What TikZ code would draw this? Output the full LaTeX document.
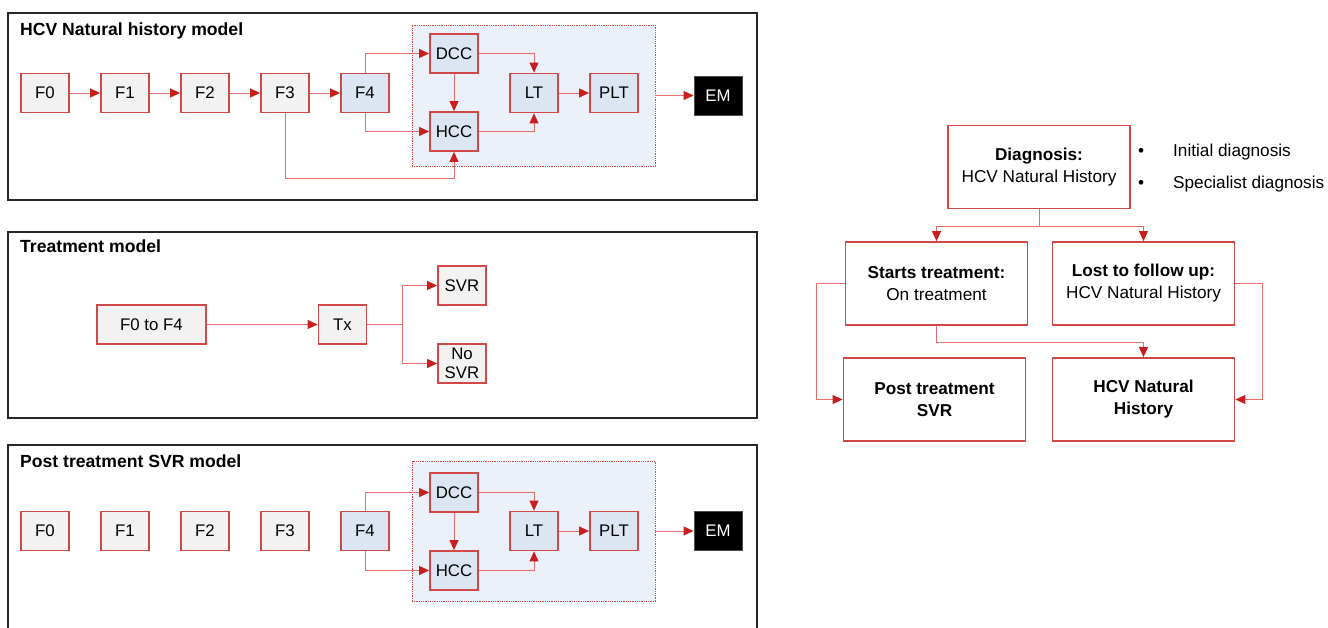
\documentclass[tikz,border=0pt]{standalone}
\usepackage{fontspec}
\setmainfont{Liberation Sans}
\usetikzlibrary{arrows.meta}
\definecolor{bred}{RGB}{208,72,72}
\definecolor{lred}{RGB}{228,110,110}
\definecolor{dred}{RGB}{200,30,30}
\definecolor{gfill}{RGB}{242,242,242}
\definecolor{bfill}{RGB}{220,230,242}
\definecolor{rfill}{RGB}{236,241,249}
\tikzset{
  sbox/.style={draw=bred, line width=1.8pt, fill=gfill, minimum width=48pt, minimum height=39pt, inner sep=0pt, font=\fontsize{16.8}{19}\selectfont},
  bbox/.style={sbox, fill=bfill},
  embox/.style={draw=gray!60!black, line width=1pt, fill=black, text=white, minimum width=48pt, minimum height=39pt, inner sep=0pt, font=\fontsize{16.8}{19}\selectfont},
  region/.style={draw=bred, densely dotted, line width=0.8pt, fill=rfill, inner sep=0pt},
  panel/.style={draw=black!85, line width=1.3pt},
  ptitle/.style={anchor=north west, inner sep=0pt, font=\bfseries\fontsize{17.6}{20}\selectfont},
  arr/.style={draw=lred, line width=1pt, -{Triangle[length=10pt,width=9pt,color=dred]}},
  bigbox/.style={draw=bred, line width=1.8pt, fill=white, minimum width=182pt, minimum height=83pt, inner sep=0pt, align=center, font=\fontsize{17.2}{22}\selectfont},
  note/.style={anchor=west, inner sep=0pt, font=\fontsize{17.2}{20}\selectfont}
}
\begin{document}
\begin{tikzpicture}[x=1pt,y=-1pt]
\useasboundingbox (0,0) rectangle (1328,627);
\clip (0,0) rectangle (1328,627);
% ---------- panel 1
\draw[panel] (8,13) rectangle (757,200);
\node[ptitle] (t1) at (20,23) {HCV Natural history model};
\node[region, minimum width=243pt, minimum height=141pt] (reg1) at (533.5,95.5) {};
\node[sbox] (a0) at (45,93) {F0};
\node[sbox] (a1) at (125,93) {F1};
\node[sbox] (a2) at (205,93) {F2};
\node[sbox] (a3) at (285,93) {F3};
\node[bbox] (a4) at (365,93) {F4};
\node[bbox] (adcc) at (454,53.5) {DCC};
\node[bbox] (ahcc) at (454,131.5) {HCC};
\node[bbox] (alt) at (534,93) {LT};
\node[bbox] (aplt) at (614,93) {PLT};
\node[embox] (aem) at (718,95.5) {EM};
\draw[arr] (a0) -- (a1);
\draw[arr] (a1) -- (a2);
\draw[arr] (a2) -- (a3);
\draw[arr] (a3) -- (a4);
\draw[arr] (a4.north) |- (adcc.west);
\draw[arr] (a4.south) |- (ahcc.west);
\draw[arr] (a3.south) -- ++(0,65) -| (ahcc.south);
\draw[arr] (adcc) -- (ahcc);
\draw[arr] (adcc.east) -| (alt.north);
\draw[arr] (ahcc.east) -| (alt.south);
\draw[arr] (alt) -- (aplt);
\draw[arr] (reg1.east) -- (aem.west);
% ---------- panel 2
\draw[panel] (8,232) rectangle (757,418);
\node[ptitle] (t2) at (20,240) {Treatment model};
\node[sbox, minimum width=109pt] (b0) at (151.5,324.5) {F0 to F4};
\node[sbox] (btx) at (342.5,324.5) {Tx};
\node[sbox] (bsvr) at (462,285.5) {SVR};
\node[sbox, align=center, font=\fontsize{16.8}{19}\selectfont] (bno) at (462,363.5) {No\\SVR};
\draw[arr] (b0) -- (btx);
\coordinate (bsplit) at (402,324.5);
\draw[lred, line width=1pt] (btx.east) -- (bsplit);
\draw[arr] (bsplit) |- (bsvr.west);
\draw[arr] (bsplit) |- (bno.west);
% ---------- panel 3
\draw[panel] (8,640) -- (8,445) -- (757,445) -- (757,640);
\node[ptitle] (t3) at (20,455) {Post treatment SVR model};
\node[region, minimum width=243pt, minimum height=140pt] (reg3) at (533.5,531) {};
\node[sbox] (c0) at (45,531) {F0};
\node[sbox] (c1) at (125,531) {F1};
\node[sbox] (c2) at (205,531) {F2};
\node[sbox] (c3) at (285,531) {F3};
\node[bbox] (c4) at (365,531) {F4};
\node[bbox] (cdcc) at (454,492.5) {DCC};
\node[bbox] (chcc) at (454,570.5) {HCC};
\node[bbox] (clt) at (534,531) {LT};
\node[bbox] (cplt) at (614,531) {PLT};
\node[embox] (cem) at (718,531) {EM};
\draw[arr] (c4.north) |- (cdcc.west);
\draw[arr] (c4.south) |- (chcc.west);
\draw[arr] (cdcc) -- (chcc);
\draw[arr] (cdcc.east) -| (clt.north);
\draw[arr] (chcc.east) -| (clt.south);
\draw[arr] (clt) -- (cplt);
\draw[arr] (reg3.east) -- (cem.west);
% ---------- right diagram
\node[bigbox] (diag) at (1039,167) {\textbf{Diagnosis:}\\HCV Natural History};
\node[bigbox] (start) at (936.5,283.5) {\textbf{Starts treatment:}\\On treatment};
\node[bigbox] (lost) at (1143.5,283.5) {\textbf{Lost to follow up:}\\HCV Natural History};
\node[bigbox] (post) at (934.5,399.5) {\textbf{Post treatment}\\\textbf{SVR}};
\node[bigbox] (hnh) at (1143.5,399.5) {\textbf{HCV Natural}\\\textbf{History}};
\node[note] (n1) at (1138,152) {\textbullet};
\node[note] (n1t) at (1173,152) {Initial diagnosis};
\node[note] (n2) at (1138,184) {\textbullet};
\node[note] (n2t) at (1173,184) {Specialist diagnosis};
\coordinate (dsplit) at (1039,226);
\draw[lred, line width=1pt] (diag.south) -- (dsplit);
\draw[arr] (dsplit) -| (start.north);
\draw[arr] (dsplit) -| (lost.north);
\draw[arr] (start.west) -- ++(-28,0) |- (post.west);
\draw[arr] (start.south) -- ++(0,17) -| (hnh.north);
\draw[arr] (lost.east) -- ++(27,0) |- (hnh.east);
\end{tikzpicture}
\end{document}
